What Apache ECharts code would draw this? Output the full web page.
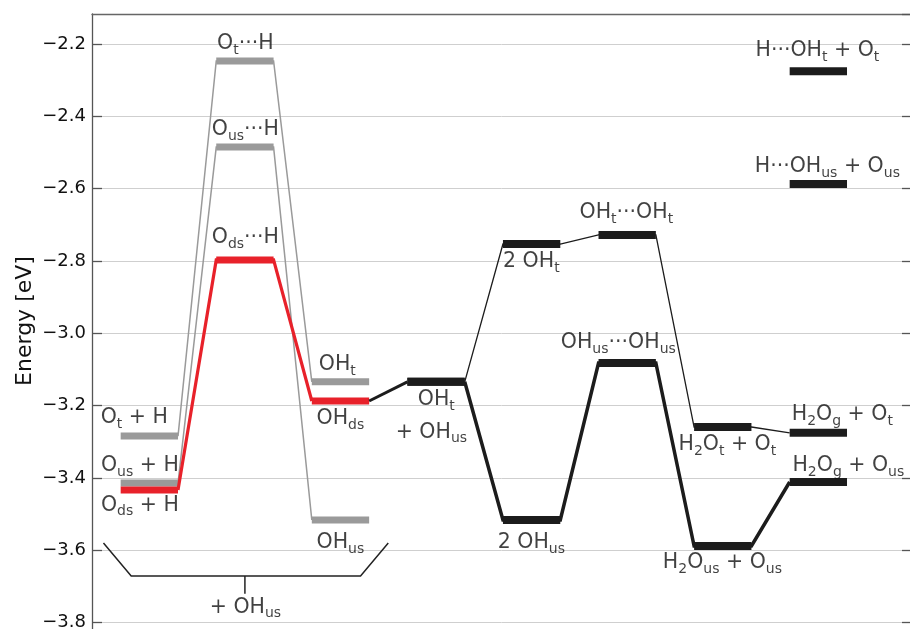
<!DOCTYPE html>
<html>
<head>
<meta charset="utf-8">
<script src="https://cdn.jsdelivr.net/npm/echarts@6/dist/echarts.min.js"></script>
<style>html,body{margin:0;padding:0;background:#fff}#c{width:910px;height:629px}</style>
</head>
<body>
<div id="c"></div>
<script>
// ---- data: [slot, energy eV] ----
const otPath   = [[0, -3.284], [1, -2.247], [2, -3.134]];
const ousPath  = [[0, -3.414], [1, -2.485], [2, -3.516]];
const odsPath  = [[0, -3.433], [1, -2.797], [2, -3.187]];
const linkPath = [[2, -3.187], [3, -3.134]];
const ohtPath  = [[3, -3.134], [4, -2.753], [5, -2.728], [6, -3.259], [7, -3.275]];
const ohusPath = [[3, -3.134], [4, -3.516], [5, -3.082], [6, -3.588], [7, -3.411]];
const isolatedLevels = [[7, -2.275], [7, -2.587]];
const bracketPts  = [[-0.48, -3.58], [-0.19, -3.671], [2.21, -3.671], [2.50, -3.58]];
const bracketStem = [[1, -3.671], [1, -3.72]];

const labelTexts = [
  'O{s|t}···H', 'O{s|us}···H', 'O{s|ds}···H',
  'O{s|t} + H', 'O{s|us} + H', 'O{s|ds} + H',
  'OH{s|t}', 'OH{s|ds}', 'OH{s|us}',
  'OH{s|t}', '+ OH{s|us}',
  '2 OH{s|t}', 'OH{s|t}···OH{s|t}', 'OH{s|us}···OH{s|us}', '2 OH{s|us}',
  'H{s|2}O{s|t} + O{s|t}', 'H{s|2}O{s|us} + O{s|us}',
  'H{s|2}O{s|g} + O{s|t}', 'H{s|2}O{s|g} + O{s|us}',
  'H···OH{s|t} + O{s|t}', 'H···OH{s|us} + O{s|us}',
  '+ OH{s|us}'
];
const labelAnchors = [
  [1.005, -2.200], [1.005, -2.438], [1.005, -2.736],
  [-0.157, -3.234], [-0.099, -3.367], [-0.099, -3.477],
  [1.967, -3.0875], [1.999, -3.237], [1.999, -3.580],
  [3.003, -3.184], [2.951, -3.275],
  [3.997, -2.803], [4.991, -2.667], [4.907, -3.027], [3.997, -3.580],
  [6.048, -3.309], [5.996, -3.635],
  [7.251, -3.226], [7.314, -3.367],
  [6.990, -2.219], [7.094, -2.540],
  [1.005, -3.759]
];
const yTickStep = 0.2;

// ---- helpers ----
const HALF = 0.3;
const FONT = 'DejaVu Sans';
function connector(path) {
  return path.flatMap(([s, e]) => [[s - HALF, e], [s + HALF, e]]).slice(1, -1);
}
function lineSeries(data, color, width, z) {
  return { type: 'line', data: data, showSymbol: false, symbol: 'none', z: z,
           lineStyle: { color: color, width: width, cap: 'butt', join: 'miter' },
           silent: true, animation: false, clip: false };
}
function levelSeries(data, color, width, z) {
  return {
    type: 'custom', data: data, z: z, animation: false, silent: true, clip: false,
    renderItem: function (params, api) {
      const a = api.coord([api.value(0) - HALF, api.value(1)]);
      const b = api.coord([api.value(0) + HALF, api.value(1)]);
      return { type: 'line', shape: { x1: a[0], y1: a[1], x2: b[0], y2: b[1] },
               style: { stroke: color, lineWidth: width, lineCap: 'butt' } };
    }
  };
}
const GRAY = '#9a9a9a', RED = '#e8212a', BLACK = '#1c1c1c', TXT = '#111';

const chart = echarts.init(document.getElementById('c'), null, { renderer: 'canvas' });
chart.setOption({
  animation: false,
  backgroundColor: '#fff',
  grid: { left: 92, right: -2, top: 14, bottom: -66, containLabel: false, outerBoundsMode: 'none' },
  xAxis: {
    type: 'value', min: -0.6, max: 7.98, position: 'top',
    axisLine: { show: true, onZero: false, lineStyle: { color: '#666', width: 1.3 } },
    axisTick: { show: false }, axisLabel: { show: false }, splitLine: { show: false }
  },
  yAxis: [{
    type: 'value', min: -4.0, max: -2.117, interval: yTickStep, position: 'left',
    axisLine: { show: true, onZero: false, lineStyle: { color: '#555', width: 1.3 } },
    axisTick: { show: true, inside: true, length: 10, lineStyle: { color: '#555', width: 1.3 } },
    axisLabel: { show: true, margin: 6, fontSize: 18, fontFamily: FONT, color: TXT,
                 showMaxLabel: false,
                 formatter: v => v.toFixed(1).replace('-', '\u2212') },
    splitLine: { show: true, lineStyle: { color: '#cfcfcf', width: 1 } }
  }, {
    type: 'value', min: -4.0, max: -2.117, interval: yTickStep, position: 'right',
    axisLine: { show: true, onZero: false, lineStyle: { color: '#555', width: 1.3 } },
    axisTick: { show: true, inside: true, length: 10, lineStyle: { color: '#555', width: 1.3 } },
    axisLabel: { show: false }, splitLine: { show: false }
  }],
  graphic: [{
    type: 'text', x: 25, y: 321, rotation: Math.PI / 2,
    style: { text: 'Energy [eV]', font: '22px "DejaVu Sans"', fill: TXT,
             textAlign: 'center', textVerticalAlign: 'middle' }
  }],
  series: [
    lineSeries(connector(otPath), GRAY, 1.5, 2),
    lineSeries(connector(ousPath), GRAY, 1.5, 2),
    levelSeries(otPath, GRAY, 7, 3),
    levelSeries(ousPath, GRAY, 7, 3),
    lineSeries(connector(odsPath), RED, 3.2, 4),
    levelSeries(odsPath, RED, 7, 5),
    lineSeries(connector(linkPath), BLACK, 3, 6),
    lineSeries(connector(ohtPath), BLACK, 1.3, 6),
    lineSeries(connector(ohusPath), BLACK, 3.5, 6),
    levelSeries(ohtPath, BLACK, 8, 7),
    levelSeries(ohusPath, BLACK, 8, 7),
    levelSeries(isolatedLevels, BLACK, 8, 7),
    lineSeries(bracketPts, '#222', 1.5, 6),
    lineSeries(bracketStem, '#222', 1.5, 6),
    {
      type: 'scatter', data: labelAnchors, symbolSize: 0, z: 10, silent: true, animation: false,
      label: {
        show: true, position: 'inside',
        formatter: p => labelTexts[p.dataIndex],
        fontSize: 20.5, fontFamily: FONT, color: TXT, lineHeight: 26,
        textBorderWidth: 0,
        rich: { s: { fontSize: 14, fontFamily: FONT, color: TXT, lineHeight: 13, verticalAlign: 'bottom', textBorderWidth: 0 } }
      }
    }
  ]
});
</script>
</body>
</html>
